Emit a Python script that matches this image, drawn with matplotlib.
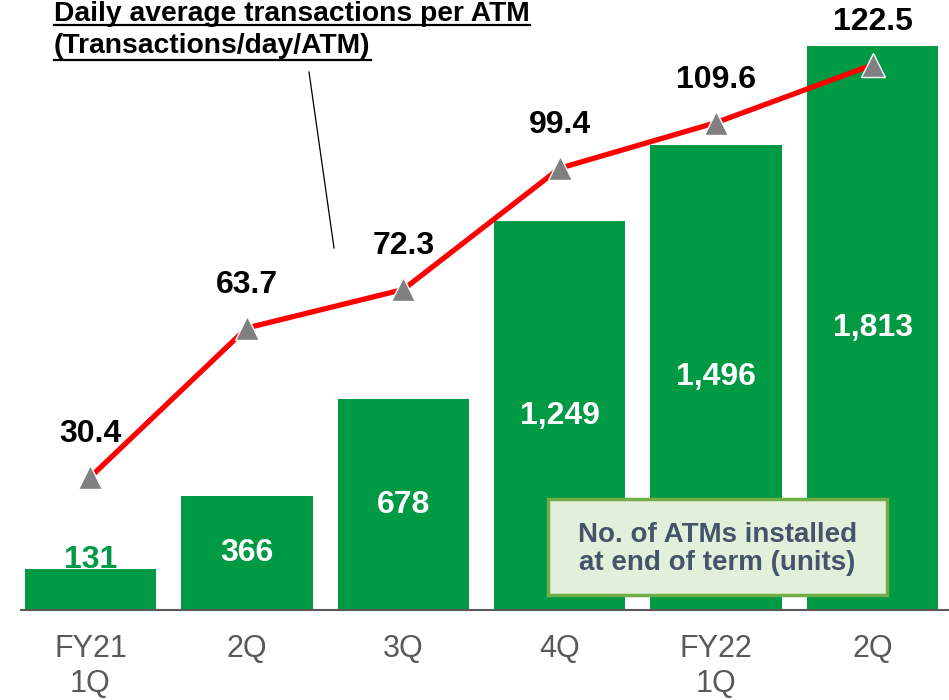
import numpy as np
import matplotlib
matplotlib.use('Agg')
import matplotlib.pyplot as plt
from matplotlib.lines import Line2D
from matplotlib.patches import Rectangle

plt.rcParams['font.family'] = ['Liberation Sans', 'DejaVu Sans']

categories = ['FY21\n1Q', '2Q', '3Q', '4Q', 'FY22\n1Q', '2Q']
atms = [131, 366, 678, 1249, 1496, 1813]
atm_labels = ['131', '366', '678', '1,249', '1,496', '1,813']
tx_per_atm = [30.4, 63.7, 72.3, 99.4, 109.6, 122.5]

green = '#009944'
x = np.arange(len(categories))

fig = plt.figure(figsize=(9.49, 7.0), dpi=100)
ax = fig.add_axes([21/949, 90/700, 928/949, 610/700])
ax2 = ax.twinx()

bars = ax.bar(x, atms, width=0.84, color=green, zorder=2)
ax.set_xlim(-0.444, 5.489)
ax.set_ylim(0, 1961)
ax2.set_ylim(0.67, 137.0)

for i, (b, lab) in enumerate(zip(bars, atm_labels)):
    if i == 0:
        # small bar: label sits on top in green
        ax.annotate(lab, (b.get_x() + b.get_width()/2, b.get_height()),
                    xytext=(0, 7), textcoords='offset points',
                    ha='center', va='center', fontsize=23, fontweight='bold', color=green)
    else:
        ax.text(b.get_x() + b.get_width()/2, b.get_height()/2, lab,
                ha='center', va='center', fontsize=23, fontweight='bold', color='white')

ax2.plot(x, tx_per_atm, color='#FF0000', lw=3.8, zorder=3,
         marker='^', markersize=17, markerfacecolor='#808080',
         markeredgecolor='white', markeredgewidth=1.0)
for xi, v in zip(x, tx_per_atm):
    ax2.annotate(f'{v:.1f}', (xi, v), xytext=(0, 31), textcoords='offset points',
                 ha='center', va='center', fontsize=23, fontweight='bold', color='black')

for a in (ax, ax2):
    for s in ['top', 'right', 'left']:
        a.spines[s].set_visible(False)
    a.set_yticks([])
ax2.spines['bottom'].set_visible(False)
ax.spines['bottom'].set_color('#595959')
ax.spines['bottom'].set_linewidth(1.5)
ax.set_xticks(x)
ax.set_xticklabels(categories, fontsize=22, color='#595959', linespacing=1.25)
ax.tick_params(axis='x', length=0, pad=17)

# legend-like box for the bars
fig.add_artist(Rectangle((548/949, 1 - 595/700), 339/949, 96/700, transform=fig.transFigure,
                         facecolor='#E2EFDA', edgecolor='#70AD47', linewidth=2.5, zorder=4))
fig.text(717.5/949, 1 - 549/700, 'No. of ATMs installed\nat end of term (units)',
         ha='center', va='center', fontsize=20, fontweight='bold', color='#44546A',
         linespacing=1.15, zorder=5)

# underlined title of the line series
t1 = fig.text(54/949, 1 - 14/700, 'Daily average transactions per ATM',
              ha='left', va='center', fontsize=20.3, fontweight='bold', color='black')
t2 = fig.text(54/949, 1 - 46/700, '(Transactions/day/ATM)',
              ha='left', va='center', fontsize=20.3, fontweight='bold', color='black')
fig.canvas.draw()
r = fig.canvas.get_renderer()
for t, uy in ((t1, 25), (t2, 60)):
    bb = t.get_window_extent(r)
    fig.add_artist(Line2D([bb.x0/949, bb.x1/949], [1 - uy/700, 1 - uy/700],
                          color='black', lw=1.6))
fig.add_artist(Line2D([309/949, 334/949], [1 - 72/700, 1 - 248/700], color='black', lw=0.9))

fig.savefig('out.png', dpi=100)
